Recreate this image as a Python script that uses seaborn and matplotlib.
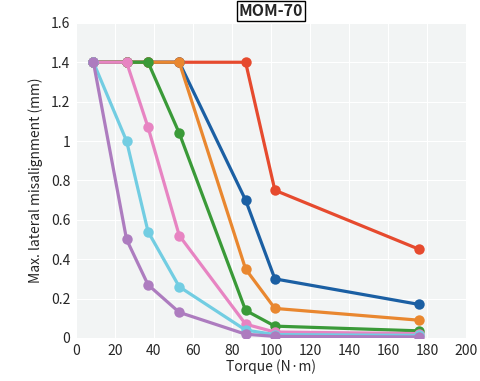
import pandas as pd
import matplotlib
matplotlib.use("Agg")
import matplotlib.pyplot as plt
import seaborn as sns


# Data
TORQUE = [9, 26, 37, 53, 87, 102, 176]

SERIES_NAMES = ["red", "blue", "orange", "green", "pink", "cyan", "purple"]
RED = [1.4, 1.4, 1.4, 1.4, 1.4, 0.75, 0.45]
BLUE = [1.4, 1.4, 1.4, 1.4, 0.70, 0.30, 0.17]
ORANGE = [1.4, 1.4, 1.4, 1.4, 0.35, 0.15, 0.09]
GREEN = [1.4, 1.4, 1.4, 1.04, 0.14, 0.06, 0.036]
PINK = [1.4, 1.4, 1.07, 0.52, 0.07, 0.03, 0.022]
CYAN = [1.4, 1.0, 0.54, 0.26, 0.04, 0.017, 0.013]
PURPLE = [1.4, 0.5, 0.27, 0.13, 0.019, 0.008, 0.005]

COLORS = ["#e64a2e", "#1b5fa3", "#e9872f", "#3a9a38", "#e784c2", "#72cde2", "#ad7cbf"]

X_TICKS = list(range(0, 201, 20))
Y_TICKS = [0, 0.2, 0.4, 0.6, 0.8, 1, 1.2, 1.4, 1.6]
Y_TICK_LABELS = ["0", "0.2", "0.4", "0.6", "0.8", "1", "1.2", "1.4", "1.6"]


sns.set_style("darkgrid", {
    "axes.facecolor": "#f2f4f4",
    "grid.color": "white",
    "grid.linewidth": 1.3,
    "axes.edgecolor": "none",
})
plt.rcParams["font.family"] = ["Noto Sans CJK JP", "DejaVu Sans"]

all_values = [RED, BLUE, ORANGE, GREEN, PINK, CYAN, PURPLE]
rows = []
for name, values in zip(SERIES_NAMES, all_values):
    for t, v in zip(TORQUE, values):
        rows.append({"series": name, "torque": t, "misalignment": v})
df = pd.DataFrame(rows)

fig = plt.figure(figsize=(4.8, 3.81), dpi=100)
ax = fig.add_axes([0.158, 0.113, 0.813, 0.827])

# draw one at a time so later series sit on top
for name, color in zip(SERIES_NAMES, COLORS):
    sns.lineplot(
        data=df[df["series"] == name],
        x="torque",
        y="misalignment",
        color=color,
        marker="o",
        markersize=7.5,
        markeredgewidth=0,
        linewidth=2.3,
        ax=ax,
    )

ax.set_xlim(0, 200)
ax.set_ylim(0, 1.6)
ax.set_xticks(X_TICKS)
ax.set_yticks(Y_TICKS)
ax.set_yticklabels(Y_TICK_LABELS)
ax.tick_params(length=0, labelsize=10, pad=4)
for s in ax.spines.values():
    s.set_visible(False)

ax.set_xlabel("Torque (N·m)", fontsize=10, labelpad=1)
ax.set_ylabel("Max. lateral misalignment (mm)", fontsize=10, labelpad=6)

ax.set_title(
    "MOM-70",
    fontsize=11.5,
    fontweight="bold",
    pad=5,
    bbox=dict(facecolor="white", edgecolor="black", linewidth=1, pad=1.2),
)

plt.savefig("out.png", dpi=100)
plt.close()
